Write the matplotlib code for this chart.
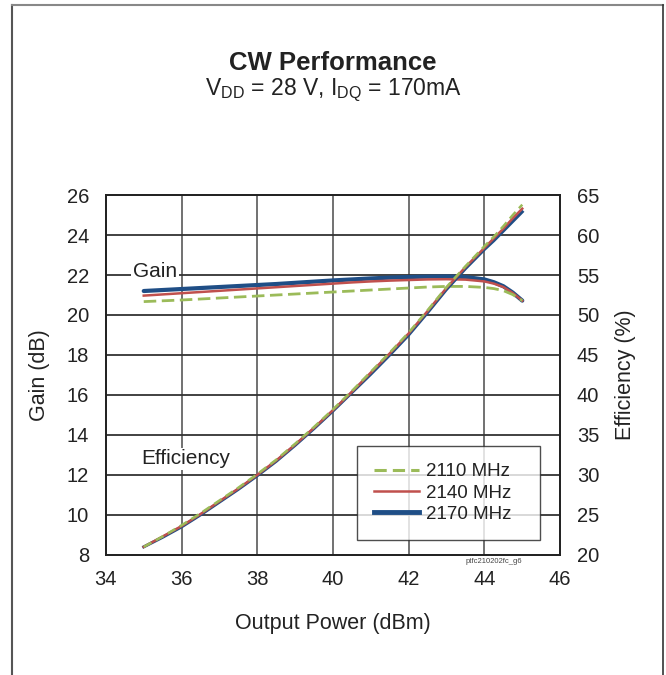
import matplotlib
matplotlib.use("Agg")
import matplotlib.pyplot as plt
from matplotlib.lines import Line2D

plt.rcParams['font.family'] = ['Liberation Sans', 'DejaVu Sans']

pout = [35, 35.5, 36, 36.5, 37, 37.5, 38, 38.5, 39, 39.5, 40, 40.5, 41, 41.5, 42, 42.5,
        43, 43.5, 44, 44.25, 44.5, 44.75, 45]

gain_2110 = [20.67, 20.71, 20.75, 20.8, 20.85, 20.9, 20.95, 21.0, 21.05, 21.1, 21.15, 21.2,
             21.25, 21.3, 21.35, 21.4, 21.43, 21.43, 21.38, 21.32, 21.22, 21.02, 20.72]
gain_2140 = [20.97, 21.03, 21.09, 21.15, 21.21, 21.27, 21.33, 21.39, 21.45, 21.51, 21.57, 21.63,
             21.68, 21.72, 21.75, 21.78, 21.79, 21.77, 21.68, 21.57, 21.4, 21.1, 20.72]
gain_2170 = [21.2, 21.25, 21.3, 21.35, 21.4, 21.45, 21.5, 21.55, 21.61, 21.67, 21.73, 21.78,
             21.83, 21.87, 21.9, 21.92, 21.93, 21.9, 21.78, 21.64, 21.44, 21.12, 20.72]

eff_2110 = [21.0, 22.3, 23.7, 25.2, 26.8, 28.4, 30.1, 31.9, 33.9, 36.0, 38.2, 40.5, 42.9,
            45.3, 47.8, 50.6, 53.5, 56.1, 58.6, 59.8, 61.1, 62.5, 63.8]
eff_2140 = [21.0, 22.3, 23.6, 25.1, 26.7, 28.3, 30.0, 31.8, 33.8, 35.9, 38.1, 40.4, 42.8,
            45.2, 47.7, 50.5, 53.4, 56.0, 58.4, 59.6, 60.8, 62.1, 63.3]
eff_2170 = [21.0, 22.2, 23.5, 25.0, 26.6, 28.2, 29.9, 31.7, 33.7, 35.8, 38.0, 40.3, 42.6,
            45.0, 47.5, 50.3, 53.2, 55.8, 58.2, 59.3, 60.5, 61.7, 62.9]

labels = ['2110 MHz', '2140 MHz', '2170 MHz']
xticks = [34, 36, 38, 40, 42, 44, 46]
gain_ticks = [8, 10, 12, 14, 16, 18, 20, 22, 24, 26]
eff_ticks = [20, 25, 30, 35, 40, 45, 50, 55, 60, 65]

c_green = '#9BBB59'
c_red = '#C0504D'
c_blue = '#1F4E86'
txt = '#222222'

fig = plt.figure(figsize=(6.66, 6.75), dpi=100)
ax = fig.add_axes([0.159, 0.178, 0.682, 0.533])
ax2 = ax.twinx()

ax.set_xlim(34, 46)
ax.set_ylim(8, 26)
ax2.set_ylim(20, 65)
ax.set_xticks(xticks)
ax.set_yticks(gain_ticks)
ax2.set_yticks(eff_ticks)

for x in xticks[1:-1]:
    ax.axvline(x, color='#666666', lw=1.3, zorder=0)
for y in gain_ticks[1:-1]:
    ax.axhline(y, color='#333333', lw=1.3, zorder=0)

# gain curves
ax.plot(pout, gain_2170, color=c_blue, lw=3.0, solid_capstyle='round', zorder=3)
ax.plot(pout, gain_2140, color=c_red, lw=1.8, zorder=4)
ax.plot(pout, gain_2110, color=c_green, lw=2.0, ls=(0, (4.5, 2.0)), zorder=5)
# efficiency curves
ax2.plot(pout, eff_2170, color=c_blue, lw=2.2, zorder=3)
ax2.plot(pout, eff_2140, color=c_red, lw=1.8, zorder=4)
ax2.plot(pout, eff_2110, color=c_green, lw=1.8, ls=(0, (3.5, 2.0)), zorder=5)

for a in (ax, ax2):
    for s in a.spines.values():
        s.set_color(txt)
        s.set_linewidth(1.3)
    a.tick_params(length=0, labelsize=14.5, colors=txt)
ax.tick_params(axis='x', pad=11)
ax.tick_params(axis='y', pad=12)
ax2.tick_params(axis='y', pad=12)

ax.set_xlabel('Output Power (dBm)', fontsize=15.5, color=txt)
ax.set_ylabel('Gain (dB)', fontsize=15.5, color=txt)
ax2.set_ylabel('Efficiency (%)', fontsize=15.5, color=txt)
ax.xaxis.set_label_coords(0.5, -0.161)
ax.yaxis.set_label_coords(-0.123, 0.5)
ax2.yaxis.set_label_coords(1.121, 0.5)

ax.text(34.72, 22.2, 'Gain', fontsize=15, color=txt, ha='left', va='center',
        bbox=dict(facecolor='white', edgecolor='none', pad=1.5), zorder=6)
ax.text(34.93, 12.8, 'Efficiency', fontsize=15, color=txt, ha='left', va='center',
        bbox=dict(facecolor='white', edgecolor='none', pad=1), zorder=6)
ax.text(45.0, 7.65, 'ptfc210202fc_g6', fontsize=5.5, color='#444444', ha='right', va='center')

handles = [Line2D([], [], color=c_green, lw=2.2, ls=(0, (4, 2))),
           Line2D([], [], color=c_red, lw=1.8),
           Line2D([], [], color=c_blue, lw=3.5)]
leg = ax2.legend(handles, labels, loc='lower left', bbox_to_anchor=(0.553, 0.042, 0.403, 0.27),
                 mode='expand', fontsize=13.5, frameon=True, fancybox=False,
                 handlelength=2.4, handletextpad=0.4, labelspacing=0.22,
                 borderpad=0.9, borderaxespad=0)
leg.get_frame().set_edgecolor(txt)
leg.get_frame().set_linewidth(1.0)
leg.set_zorder(10)
for t in leg.get_texts():
    t.set_color(txt)

fig.text(0.5, 0.906, 'CW Performance', fontsize=18.5, fontweight='bold', ha='center', va='center', color=txt)
fig.text(0.5, 0.866, r'V$_{\mathregular{DD}}$ = 28 V, I$_{\mathregular{DQ}}$ = 170mA', fontsize=16.5,
         ha='center', va='center', color=txt)

# outer frame
fig.add_artist(Line2D([12/666, 12/666], [0, 1 - 5/675], transform=fig.transFigure, color='#555555', lw=1.5))
fig.add_artist(Line2D([12/666, 663/666], [1 - 5/675, 1 - 5/675], transform=fig.transFigure, color='#888888', lw=1.5))
fig.add_artist(Line2D([663/666, 663/666], [0, 1 - 5/675], transform=fig.transFigure, color='#333333', lw=1.2))

fig.savefig('out.png', dpi=100, facecolor='white')
